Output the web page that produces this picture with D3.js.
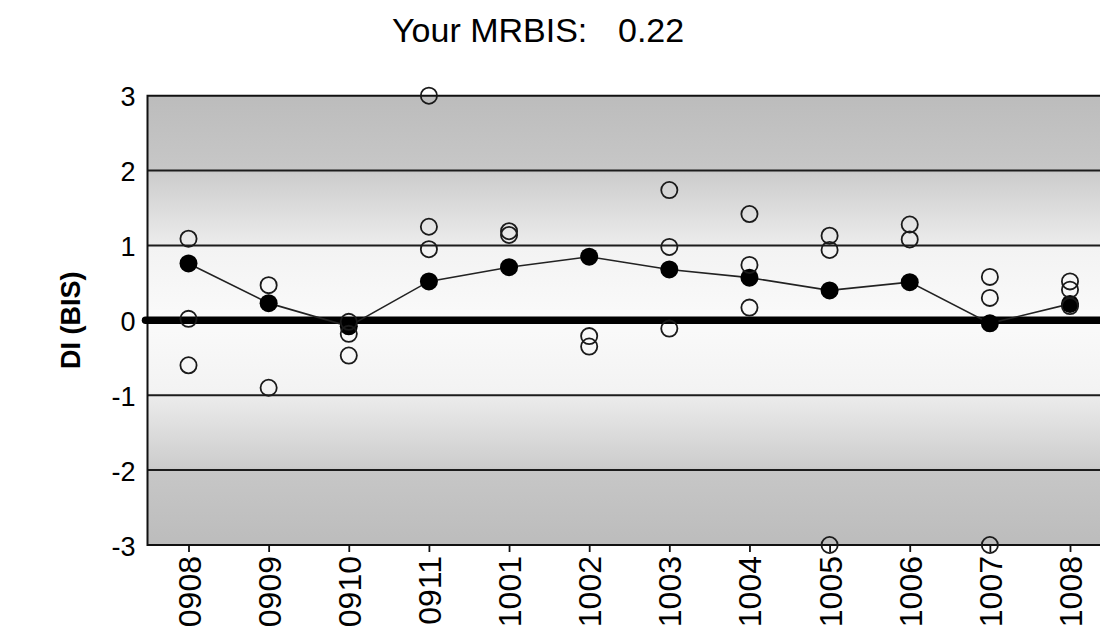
<!DOCTYPE html>
<html>
<head>
<meta charset="utf-8">
<script src="https://cdn.jsdelivr.net/npm/d3@7"></script>
<style>
  html, body { margin: 0; padding: 0; background: #fff; }
  svg { display: block; font-family: "Liberation Sans", Arial, sans-serif; }
</style>
</head>
<body>
<svg id="chart" width="1100" height="627"></svg>
<script>
// Monthly periods (YYMM)
const months = ["0908", "0909", "0910", "0911", "1001", "1002",
                "1003", "1004", "1005", "1006", "1007", "1008"];

// Monthly mean DI (filled markers, joined by a line)
const meanDI = [0.76, 0.23, -0.08, 0.52, 0.71, 0.85, 0.68, 0.57, 0.40, 0.51, -0.04, 0.22];

// Individual DI results per month (open markers)
const resultsDI = [
  [1.09, 0.02, -0.60],
  [0.47, -0.90],
  [-0.02, -0.18, -0.47],
  [3.00, 1.25, 0.95],
  [1.19, 1.14],
  [-0.21, -0.35],
  [1.74, 0.98, -0.11],
  [1.42, 0.74, 0.17],
  [1.13, 0.94, -3.00],
  [1.28, 1.08],
  [0.58, 0.30, -3.00],
  [0.52, 0.41, 0.19]
];

const yTicks = [-3, -2, -1, 0, 1, 2, 3];
const gridValues = [-2, -1, 1, 2];
const mrbis = "0.22";

const svg = d3.select("#chart");

const plot = { left: 147.5, top: 95.7, right: 1112, bottom: 545 };

const x = d3.scalePoint().domain(months).range([188.5, 1070]);
const y = d3.scaleLinear().domain([-3, 3]).range([plot.bottom, plot.top]);

// Background: grey at the limits, near white around zero
const defs = svg.append("defs");
const grad = defs.append("linearGradient")
  .attr("id", "bg").attr("x1", 0).attr("y1", 0).attr("x2", 0).attr("y2", 1);
[[0, "#bcbcbc"], [0.167, "#c7c7c7"], [0.175, "#cdcdcd"], [0.333, "#ececec"],
 [0.34, "#f3f3f3"], [0.5, "#fafafa"], [0.66, "#f3f3f3"], [0.667, "#ececec"],
 [0.825, "#cdcdcd"], [0.833, "#c7c7c7"], [1, "#bcbcbc"]]
  .forEach(([o, c]) => grad.append("stop").attr("offset", o).attr("stop-color", c));

svg.append("rect")
  .attr("x", plot.left).attr("y", plot.top)
  .attr("width", plot.right - plot.left).attr("height", plot.bottom - plot.top)
  .attr("fill", "url(#bg)");

// Horizontal grid lines
svg.append("g").selectAll("line").data(gridValues).join("line")
  .attr("x1", plot.left).attr("x2", plot.right)
  .attr("y1", d => y(d)).attr("y2", d => y(d))
  .attr("stroke", "#1c1c1c").attr("stroke-width", 2);

// Plot frame (left, top, bottom)
svg.append("path")
  .attr("d", `M${plot.right},${y(3)}H${plot.left}V${y(-3)}H${plot.right}`)
  .attr("fill", "none").attr("stroke", "#111").attr("stroke-width", 2);

// Zero reference line
svg.append("line")
  .attr("x1", plot.left - 2).attr("x2", plot.right)
  .attr("y1", y(0)).attr("y2", y(0))
  .attr("stroke", "#000").attr("stroke-width", 7.5).attr("stroke-linecap", "round");

// Y axis labels (plain hyphen for negatives)
const yAxis = d3.axisLeft(y).tickValues(yTicks).tickSize(0).tickPadding(12)
  .tickFormat(d => String(d));
const gy = svg.append("g").attr("transform", `translate(${plot.left},0)`).call(yAxis);
gy.select(".domain").remove();
gy.selectAll("text")
  .attr("font-size", 27).attr("fill", "#000")
  .attr("font-family", "'Liberation Sans', Arial, sans-serif")
  .attr("dy", "0.38em");

// X axis: short ticks and vertical labels
const xAxis = d3.axisBottom(x).tickSize(7).tickPadding(0);
const gx = svg.append("g").attr("transform", `translate(0,${plot.bottom})`).call(xAxis);
gx.select(".domain").remove();
gx.selectAll(".tick line").attr("stroke", "#111").attr("stroke-width", 1.8);
gx.selectAll("text")
  .attr("font-size", 32).attr("fill", "#000")
  .attr("font-family", "'Liberation Sans', Arial, sans-serif")
  .attr("text-anchor", "end")
  .attr("transform", "rotate(-90)")
  .attr("x", -11).attr("y", 0).attr("dy", "0.36em");

// Mean line
const meanPts = months.map((m, i) => [x(m), y(meanDI[i])]);
svg.append("path")
  .attr("d", d3.line()(meanPts))
  .attr("fill", "none").attr("stroke", "#222").attr("stroke-width", 1.6);

// Mean markers
svg.append("g").selectAll("circle").data(meanPts).join("circle")
  .attr("cx", d => d[0]).attr("cy", d => d[1]).attr("r", 9)
  .attr("fill", "#000");

// Individual result markers
const pts = months.flatMap((m, i) => resultsDI[i].map(v => [x(m), y(v)]));
svg.append("g").selectAll("circle").data(pts).join("circle")
  .attr("cx", d => d[0]).attr("cy", d => d[1]).attr("r", 8.1)
  .attr("fill", "none").attr("stroke", "#1a1a1a").attr("stroke-width", 1.8);

// Y axis title
svg.append("text")
  .attr("transform", `translate(80,${y(0)}) rotate(-90)`)
  .attr("text-anchor", "middle")
  .attr("font-size", 27).attr("font-weight", "bold")
  .text("DI (BIS)");

// Title
const title = svg.append("text").attr("y", 42).attr("font-size", 34);
title.append("tspan").attr("x", 392).text("Your MRBIS:");
title.append("tspan").attr("x", 618).text(mrbis);
</script>
</body>
</html>
